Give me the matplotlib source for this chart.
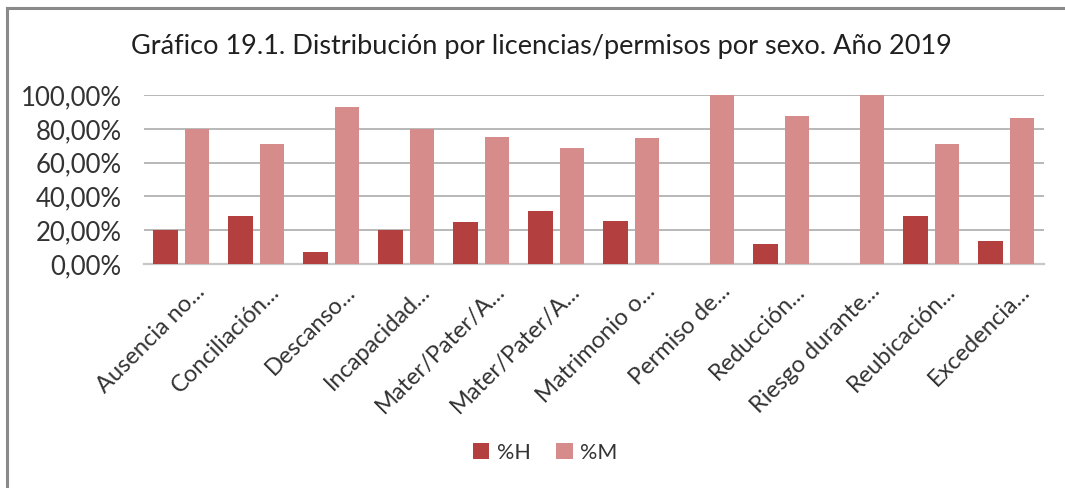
import matplotlib
matplotlib.use('Agg')
import numpy as np
import matplotlib.pyplot as plt
import matplotlib.transforms as mtransforms
from matplotlib.lines import Line2D
from matplotlib.ticker import FuncFormatter

plt.rcParams['font.family'] = ['Lato', 'DejaVu Sans']

categorias = ['Ausencia no...', 'Conciliación...', 'Descanso...', 'Incapacidad...',
              'Mater/Pater/A...', 'Mater/Pater/A...', 'Matrimonio o...', 'Permiso de...',
              'Reducción...', 'Riesgo durante...', 'Reubicación...', 'Excedencia...']
pct_h = [20.0, 28.7, 7.1, 20.0, 24.8, 31.5, 25.3, 0.0, 12.1, 0.0, 28.7, 13.7]
pct_m = [80.0, 71.3, 92.9, 80.0, 75.2, 68.5, 74.7, 100.0, 87.9, 100.0, 71.3, 86.3]

col_h = '#b3403f'
col_m = '#d58c8b'

fig = plt.figure(figsize=(10.65, 4.88), dpi=100)
ax = fig.add_axes([0.135, 0.459, 0.845, 0.346])

x = np.arange(len(categorias))
w = 0.33
ax.bar(x - 0.21, pct_h, w, color=col_h, label='%H', zorder=3)
ax.bar(x + 0.21, pct_m, w, color=col_m, label='%M', zorder=3)

ax.set_xlim(-0.5, len(categorias) - 0.5)
ax.set_ylim(0, 100)
ax.set_yticks(np.arange(0, 101, 20))
ax.yaxis.set_major_formatter(FuncFormatter(lambda v, p: f'{v:.2f}%'.replace('.', ',')))
ax.grid(axis='y', color='#b8b8b8', linewidth=1.4, zorder=0)
for s in ['top', 'right', 'left']:
    ax.spines[s].set_visible(False)
ax.spines['bottom'].set_color('#c8c8c8')
ax.spines['bottom'].set_linewidth(1.6)
ax.tick_params(axis='y', length=0, labelsize=18.5, colors='#333333', pad=16)
ax.tick_params(axis='x', length=0, labelsize=17, colors='#333333', pad=12)
ax.set_xticks(x)
ax.set_xticklabels(categorias, rotation=45, ha='right', rotation_mode='anchor')
desplaza = mtransforms.ScaledTranslation(0.13, 0, fig.dpi_scale_trans)
for lbl in ax.get_xticklabels():
    lbl.set_transform(lbl.get_transform() + desplaza)

fig.text(0.508, 0.904, 'Gráfico 19.1. Distribución por licencias/permisos por sexo. Año 2019',
         ha='center', va='center', fontsize=19.5, color='#202020')

fig.legend(loc='center', bbox_to_anchor=(0.512, 0.072), ncol=2, frameon=False,
           fontsize=15.5, handlelength=0.75, handleheight=0.75, handletextpad=0.35,
           columnspacing=1.2, labelcolor='#333333')

# marco del gráfico (solo se ven los bordes izquierdo y superior)
fig.add_artist(Line2D([7 / 1065, 7 / 1065], [0, 1 - 8 / 488], transform=fig.transFigure,
                      color='#8a8a8a', linewidth=2.2))
fig.add_artist(Line2D([7 / 1065, 1], [1 - 8 / 488, 1 - 8 / 488], transform=fig.transFigure,
                      color='#8a8a8a', linewidth=2.2))

fig.savefig('out.png', dpi=100)
